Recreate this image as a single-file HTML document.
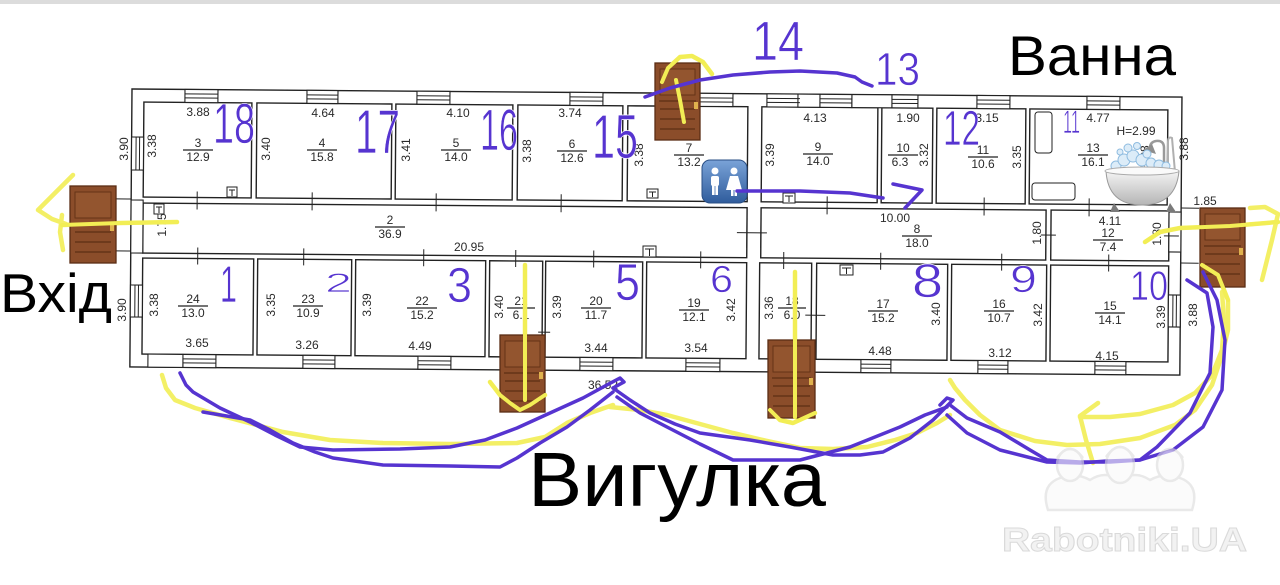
<!DOCTYPE html>
<html><head><meta charset="utf-8"><style>
html,body{margin:0;padding:0;background:#fff;}
svg{display:block;}
.d{font-family:"Liberation Sans",sans-serif;font-size:12px;fill:#2a2a2a;}
.h{font-family:"Liberation Sans",sans-serif;fill:#5634d0;stroke:#fff;stroke-width:0.7;}
.big{font-family:"Liberation Sans","DejaVu Sans",sans-serif;fill:#000;}
</style></head><body>
<svg width="1280" height="585" viewBox="0 0 1280 585" xmlns="http://www.w3.org/2000/svg">
<rect x="0" y="0" width="1280" height="585" fill="#fff"/>
<rect x="0" y="0" width="1280" height="4" fill="#dcdcdc"/>

<g transform="rotate(0.44 132 89)" fill="#fff" stroke="#222" stroke-width="1.4">
  <rect x="132" y="89" width="1050" height="278"/>
  <rect x="144" y="102" width="108" height="95"/>
  <rect x="257" y="102" width="135" height="95"/>
  <rect x="396" y="102" width="117" height="95"/>
  <rect x="518" y="102" width="105" height="95"/>
  <rect x="628" y="102" width="120" height="95"/>
  <rect x="762" y="102" width="116" height="95"/>
  <rect x="882" y="102" width="51" height="95"/>
  <rect x="937" y="102" width="89" height="95"/>
  <rect x="1030" y="102" width="138" height="95"/>
  <rect x="144" y="203" width="604" height="50"/>
  <rect x="762" y="203" width="285" height="50"/>
  <rect x="1052" y="203" width="118" height="50"/>
  <rect x="144" y="258" width="111" height="96"/>
  <rect x="259" y="258" width="94" height="96"/>
  <rect x="357" y="258" width="130" height="96"/>
  <rect x="491" y="258" width="53" height="96"/>
  <rect x="547" y="258" width="97" height="96"/>
  <rect x="648" y="258" width="100" height="96"/>
  <rect x="761" y="258" width="52" height="96"/>
  <rect x="818" y="258" width="131" height="96"/>
  <rect x="953" y="258" width="95" height="96"/>
  <rect x="1052" y="258" width="118" height="96"/>
  <g stroke-width="1.1">
    <rect x="185" y="89" width="33" height="13"/><rect x="307" y="89" width="31" height="13"/>
    <rect x="417" y="89" width="33" height="13"/><rect x="570" y="89" width="33" height="13"/>
    <rect x="700" y="89" width="33" height="13"/><rect x="767" y="89" width="33" height="13"/>
    <rect x="820" y="89" width="32" height="13"/><rect x="892" y="89" width="26" height="13"/>
    <rect x="977" y="89" width="33" height="13"/><rect x="1087" y="89" width="33" height="13"/>
    <rect x="185" y="354" width="33" height="13"/><rect x="305" y="354" width="32" height="13"/>
    <rect x="420" y="354" width="33" height="13"/><rect x="582" y="354" width="33" height="13"/>
    <rect x="688" y="354" width="34" height="13"/><rect x="863" y="354" width="30" height="13"/>
    <rect x="980" y="354" width="30" height="13"/><rect x="1097" y="354" width="31" height="13"/>
    <rect x="132" y="137" width="12" height="33"/><rect x="132" y="285" width="12" height="32"/>
    <rect x="1170" y="287" width="12" height="32"/>
    <rect x="132" y="200" width="12" height="53"/>
    <rect x="1170" y="204" width="12" height="40"/>
    <rect x="798" y="89" width="22" height="13"/><rect x="852" y="89" width="40" height="13"/>
    <rect x="150" y="354" width="35" height="13"/>
  </g>
  <path fill="none" stroke-width="1" d="
  M185 93.5H218M185 97.5H218 M307 93.5H338M307 97.5H338 M417 93.5H450M417 97.5H450 M570 93.5H603M570 97.5H603
  M700 93.5H733M700 97.5H733 M767 93.5H800M767 97.5H800 M820 93.5H852M820 97.5H852 M892 93.5H918M892 97.5H918
  M977 93.5H1010M977 97.5H1010 M1087 93.5H1120M1087 97.5H1120
  M185 358.5H218M185 362.5H218 M305 358.5H337M305 362.5H337 M420 358.5H453M420 362.5H453 M582 358.5H615M582 362.5H615
  M688 358.5H722M688 362.5H722 M863 358.5H893M863 362.5H893 M980 358.5H1010M980 362.5H1010 M1097 358.5H1128M1097 362.5H1128
  M136.5 137V170M140 137V170 M136.5 285V317M140 285V317 M1174.5 287V319M1178 287V319
  M117 199H132 M117 251H132 M1182 200H1200 M1182 255H1200
  M198 191V209 M313 191V209 M437 191V209 M562 191V209 M828 191V209 M985 191V209 M1090 191V209
  M199 247V264 M305 247V264 M425 247V264 M517 247V264 M595 247V264 M702 247V264 M785 247V264 M882 247V264 M1003 247V264 M1110 247V264
  M738 228H768 M1042 228H1057 M1165 228H1180 M807 310H827 M540 329H552
  M748 213V243 M762 213V243"/>
</g>

<g fill="#fff" stroke="#222" stroke-width="1">
  <rect x="227" y="187" width="10" height="10"/><path d="M229 190H235M232 190V196"/>
  <rect x="154" y="204" width="10" height="10"/><path d="M156 207H162M159 207V213"/>
  <rect x="647" y="189" width="11" height="9"/><path d="M649 192H656M652.5 192V197"/>
  <rect x="643" y="246" width="13" height="11"/><path d="M645 249H654M649.5 249V256"/>
  <rect x="783" y="193" width="12" height="10"/><path d="M785 196H793M789 196V202"/>
  <rect x="840" y="265" width="13" height="10"/><path d="M842 268H851M846.5 268V274"/>
  <rect x="1035" y="112" width="17" height="41" rx="3"/>
  <rect x="1032" y="183" width="43" height="17" rx="3"/>
</g>

<g class="d" text-anchor="middle">
  <text x="198" y="116">3.88</text><text x="323" y="117">4.64</text><text x="458" y="117">4.10</text>
  <text x="570" y="117">3.74</text><text x="815" y="122">4.13</text><text x="908" y="122">1.90</text>
  <text x="987" y="122">3.15</text><text x="1098" y="122">4.77</text><text x="1136" y="135">H=2.99</text>
  <text x="469" y="251">20.95</text><text x="895" y="222">10.00</text><text x="1110" y="225">4.11</text>
  <text x="1205" y="205">1.85</text>
  <text x="197" y="347">3.65</text><text x="307" y="349">3.26</text><text x="420" y="350">4.49</text>
  <text x="596" y="352">3.44</text><text x="696" y="352">3.54</text><text x="880" y="355">4.48</text>
  <text x="1000" y="357">3.12</text><text x="1107" y="360">4.15</text><text x="603" y="389">36.52</text>
  <text x="198" y="147">3</text><text x="198" y="161">12.9</text>
  <text x="322" y="147">4</text><text x="322" y="161">15.8</text>
  <text x="456" y="147">5</text><text x="456" y="161">14.0</text>
  <text x="572" y="148">6</text><text x="572" y="162">12.6</text>
  <text x="689" y="152">7</text><text x="689" y="166">13.2</text>
  <text x="818" y="151">9</text><text x="818" y="165">14.0</text>
  <text x="903" y="152">10</text><text x="900" y="166">6.3</text>
  <text x="983" y="154">11</text><text x="983" y="168">10.6</text>
  <text x="1093" y="152">13</text><text x="1093" y="166">16.1</text>
  <text x="390" y="224">2</text><text x="390" y="238">36.9</text>
  <text x="917" y="233">8</text><text x="917" y="247">18.0</text>
  <text x="1108" y="237">12</text><text x="1108" y="251">7.4</text>
  <text x="193" y="303">24</text><text x="193" y="317">13.0</text>
  <text x="308" y="303">23</text><text x="308" y="317">10.9</text>
  <text x="422" y="305">22</text><text x="422" y="319">15.2</text>
  <text x="521" y="305">21</text><text x="521" y="319">6.1</text>
  <text x="596" y="305">20</text><text x="596" y="319">11.7</text>
  <text x="694" y="307">19</text><text x="694" y="321">12.1</text>
  <text x="792" y="305">18</text><text x="792" y="319">6.0</text>
  <text x="883" y="308">17</text><text x="883" y="322">15.2</text>
  <text x="999" y="308">16</text><text x="999" y="322">10.7</text>
  <text x="1110" y="310">15</text><text x="1110" y="324">14.1</text>
</g>
<path stroke="#222" stroke-width="1.2" d="M183 150H213 M307 150H337 M441 150H471 M557 151H587 M674 155H704 M803 154H833 M888 155H918 M968 157H998 M1078 155H1108
M375 227H405 M902 236H932 M1093 240H1123 M178 306H208 M293 306H323 M407 308H437 M507 308H535 M581 308H611 M679 310H709 M778 308H806 M868 311H898 M984 311H1014 M1095 313H1125"/>
<g class="d" text-anchor="middle">
  <text transform="translate(128,149) rotate(-90)">3.90</text>
  <text transform="translate(156,146) rotate(-90)">3.38</text>
  <text transform="translate(270,149) rotate(-90)">3.40</text>
  <text transform="translate(410,150) rotate(-90)">3.41</text>
  <text transform="translate(531,151) rotate(-90)">3.38</text>
  <text transform="translate(643,155) rotate(-90)">3.38</text>
  <text transform="translate(774,155) rotate(-90)">3.39</text>
  <text transform="translate(928,155) rotate(-90)">3.32</text>
  <text transform="translate(1021,157) rotate(-90)">3.35</text>
  <text transform="translate(1188,149) rotate(-90)">3.88</text>
  <text transform="translate(1149,157) rotate(-90)">3.88</text>
  <text transform="translate(166,225) rotate(-90)">1.75</text>
  <text transform="translate(1041,233) rotate(-90)">1.80</text>
  <text transform="translate(1161,234) rotate(-90)">1.80</text>
  <text transform="translate(126,310) rotate(-90)">3.90</text>
  <text transform="translate(158,305) rotate(-90)">3.38</text>
  <text transform="translate(275,305) rotate(-90)">3.35</text>
  <text transform="translate(371,305) rotate(-90)">3.39</text>
  <text transform="translate(503,307) rotate(-90)">3.40</text>
  <text transform="translate(561,307) rotate(-90)">3.39</text>
  <text transform="translate(735,310) rotate(-90)">3.42</text>
  <text transform="translate(773,308) rotate(-90)">3.36</text>
  <text transform="translate(940,314) rotate(-90)">3.40</text>
  <text transform="translate(1042,315) rotate(-90)">3.42</text>
  <text transform="translate(1165,317) rotate(-90)">3.39</text>
  <text transform="translate(1197,315) rotate(-90)">3.88</text>
</g>

<text class="big" x="1008" y="75" font-size="56" textLength="168" lengthAdjust="spacingAndGlyphs">Ванна</text>
<text class="big" x="0" y="312" font-size="55" textLength="112" lengthAdjust="spacingAndGlyphs">Вхід</text>
<text class="big" x="528" y="506" font-size="77" textLength="298" lengthAdjust="spacingAndGlyphs">Вигулка</text>

<g class="h">
  <text x="213" y="143" font-size="57" textLength="42" lengthAdjust="spacingAndGlyphs">18</text>
  <text x="355" y="153" font-size="62" textLength="45" lengthAdjust="spacingAndGlyphs">17</text>
  <text x="480" y="150" font-size="58" textLength="38" lengthAdjust="spacingAndGlyphs">16</text>
  <text x="592" y="158" font-size="62" textLength="46" lengthAdjust="spacingAndGlyphs">15</text>
  <text x="752" y="60" font-size="56" textLength="52" lengthAdjust="spacingAndGlyphs">14</text>
  <text x="875" y="85" font-size="46" textLength="45" lengthAdjust="spacingAndGlyphs">13</text>
  <text x="943" y="145" font-size="49" textLength="37" lengthAdjust="spacingAndGlyphs">12</text>
  <text x="1063" y="133" font-size="32" textLength="17" lengthAdjust="spacingAndGlyphs">11</text>
  <text x="220" y="302" font-size="52" textLength="17" lengthAdjust="spacingAndGlyphs">1</text>
  <text x="325" y="292" font-size="27" textLength="27" lengthAdjust="spacingAndGlyphs">2</text>
  <text x="447" y="302" font-size="49" textLength="25" lengthAdjust="spacingAndGlyphs">3</text>
  <text x="615" y="300" font-size="52" textLength="25" lengthAdjust="spacingAndGlyphs">5</text>
  <text x="710" y="292" font-size="38" textLength="23" lengthAdjust="spacingAndGlyphs">6</text>
  <text x="912" y="297" font-size="47" textLength="31" lengthAdjust="spacingAndGlyphs">8</text>
  <text x="1010" y="292" font-size="38" textLength="27" lengthAdjust="spacingAndGlyphs">9</text>
  <text x="1130" y="300" font-size="42" textLength="38" lengthAdjust="spacingAndGlyphs">10</text>
</g>

<defs>
  <linearGradient id="tg" x1="0" y1="0" x2="0" y2="1"><stop offset="0" stop-color="#7aa3d8"/><stop offset="1" stop-color="#2f5c9c"/></linearGradient>
  <linearGradient id="bg" x1="0" y1="0" x2="0" y2="1"><stop offset="0" stop-color="#f4f4f4"/><stop offset="1" stop-color="#b5b5b5"/></linearGradient>
</defs>
<rect x="702" y="160" width="45" height="43" rx="8" fill="url(#tg)" stroke="#2a4f85" stroke-width="1"/>
<g fill="#fff">
  <circle cx="715" cy="171" r="3.5"/><rect x="711" y="176" width="8" height="10" rx="2"/><rect x="712" y="185" width="2.6" height="10"/><rect x="715.4" y="185" width="2.6" height="10"/>
  <circle cx="734" cy="171" r="3.5"/><path d="M730 176H738L742 190H726Z"/><rect x="731" y="189" width="2.5" height="7"/><rect x="734.5" y="189" width="2.5" height="7"/>
</g>

<g>
  <path d="M1164 172V148Q1164 140 1156 141Q1150 142 1150 148" fill="none" stroke="#9a9a9a" stroke-width="2.5"/>
  <path d="M1168 172V142Q1168 136 1172 138L1175 172" fill="none" stroke="#b0b0b0" stroke-width="2"/>
  <path d="M1143 150L1152 144L1156 154Z" fill="#8e8e8e"/>
  <g fill="#dcecf8" stroke="#8fbce0" stroke-width="1">
    <circle cx="1116" cy="166" r="5"/><circle cx="1124" cy="160" r="6"/><circle cx="1133" cy="156" r="6"/>
    <circle cx="1142" cy="160" r="6"/><circle cx="1151" cy="163" r="5"/><circle cx="1159" cy="165" r="5"/>
    <circle cx="1128" cy="148" r="4"/><circle cx="1137" cy="146" r="3.5"/><circle cx="1147" cy="154" r="4"/>
    <circle cx="1120" cy="152" r="3"/><circle cx="1166" cy="166" r="4"/>
  </g>
  <path d="M1106 171Q1108 205 1142 205Q1176 205 1179 171Z" fill="url(#bg)" stroke="#999" stroke-width="1"/>
  <ellipse cx="1142" cy="171" rx="37" ry="4" fill="#fafafa" stroke="#aaa" stroke-width="1"/>
  <path d="M1114 203L1110 212H1120Z M1170 203L1166 212H1176Z" fill="#7a7a7a"/>
</g>

<g fill="none" stroke="#f2ee55" stroke-width="4.5" stroke-linecap="round" stroke-linejoin="round" opacity="0.9">
  <polyline points="162,375 166,388 175,400 195,408 230,418 283,432 330,440 383,443 450,444 517,443 545,437 567,423 590,413 613,405"/>
  <polyline points="610,407 640,410 667,415 700,424 733,433 767,441 800,448 833,449 867,447 895,440 917,433 937,423 950,415"/>
  <polyline points="1202,265 1218,275 1228,300 1228,330 1222,355 1212,385 1195,410 1175,425 1140,438 1100,444 1067,445 1035,441 1000,430 980,415 965,400 955,388 950,380"/>
  <polyline points="1222,292 1224,320 1222,350 1212,375 1195,393 1173,405 1140,414 1110,417 1080,417"/>
  <polyline points="1098,403 1080,416 1086,440 1093,463"/>
  <polyline points="177,222 120,223 62,225"/>
  <polyline points="73,175 55,193 38,210 52,219 66,224"/>
  <polyline points="62,215 60,232 63,250"/>
  <polyline points="684,122 680,100 676,80"/>
  <polyline points="662,82 668,68 680,57 692,56 703,62 712,74"/>
  <polyline points="525,265 525,400"/>
  <polyline points="490,382 500,395 510,403 520,410 530,405 545,395"/>
  <polyline points="795,272 795,417"/>
  <polyline points="770,410 780,420 793,423 815,413"/>
  <polyline points="1145,242 1160,232 1180,228 1230,226 1278,222"/>
  <polyline points="1250,208 1265,207 1278,214 1272,240 1262,280"/>
</g>

<g>
  <g transform="translate(70,186)">
    <rect width="46" height="77" fill="#8b4d2a" stroke="#5a2d14" stroke-width="1.3"/>
    <rect x="5" y="6" width="36" height="26" fill="#93552f" stroke="#653417"/>
    <path d="M4 38H42M5 46H41M5 56H41M5 66H41" stroke="#653417" stroke-width="1.4"/>
    <rect x="40" y="39" width="4" height="6" fill="#e0b24e"/>
  </g>
  <g transform="translate(655,63)">
    <rect width="45" height="77" fill="#8b4d2a" stroke="#5a2d14" stroke-width="1.3"/>
    <rect x="5" y="6" width="35" height="26" fill="#93552f" stroke="#653417"/>
    <path d="M4 38H41M5 46H40M5 56H40M5 66H40" stroke="#653417" stroke-width="1.4"/>
    <rect x="39" y="39" width="4" height="7" fill="#e0b24e"/>
  </g>
  <g transform="translate(500,335)">
    <rect width="45" height="77" fill="#8b4d2a" stroke="#5a2d14" stroke-width="1.3"/>
    <rect x="5" y="6" width="35" height="26" fill="#93552f" stroke="#653417"/>
    <path d="M4 38H41M5 46H40M5 56H40M5 66H40" stroke="#653417" stroke-width="1.4"/>
    <rect x="39" y="37" width="4" height="7" fill="#e0b24e"/>
  </g>
  <g transform="translate(768,340)">
    <rect width="47" height="78" fill="#8b4d2a" stroke="#5a2d14" stroke-width="1.3"/>
    <rect x="5" y="6" width="37" height="26" fill="#93552f" stroke="#653417"/>
    <path d="M4 38H43M5 46H42M5 56H42M5 66H42" stroke="#653417" stroke-width="1.4"/>
    <rect x="41" y="38" width="4" height="7" fill="#e0b24e"/>
  </g>
  <g transform="translate(1200,208)">
    <rect width="45" height="79" fill="#8b4d2a" stroke="#5a2d14" stroke-width="1.3"/>
    <rect x="5" y="6" width="35" height="26" fill="#93552f" stroke="#653417"/>
    <path d="M4 38H41M5 46H40M5 56H40M5 66H40" stroke="#653417" stroke-width="1.4"/>
    <rect x="39" y="40" width="4" height="7" fill="#e0b24e"/>
  </g>
</g>

<g fill="none" stroke="#f2ee55" stroke-width="4" stroke-linecap="round" stroke-linejoin="round">
  <polyline points="177,222 120,223 62,225"/>
  <polyline points="684,122 680,100 676,80"/>
  <polyline points="662,82 668,68 680,57 692,56 703,62 712,74"/>
  <polyline points="525,265 525,400"/>
  <polyline points="490,382 500,395 510,403 520,410 530,405 545,395"/>
  <polyline points="795,272 795,417"/>
  <polyline points="770,410 780,420 793,423 815,413"/>
  <polyline points="1145,242 1160,232 1180,228 1230,226 1278,222"/>
  <polyline points="1202,265 1218,275 1228,300"/>
</g>

<g fill="none" stroke="#5634d0" stroke-width="3.5" stroke-linecap="round" stroke-linejoin="round">
  <polyline points="645,97 670,88 700,80 733,75 770,72 800,71 837,73 855,77 862,82 872,86"/>
  <polyline points="737,191 800,191 850,193 883,198"/>
  <polyline points="893,184 922,190 905,208"/>
  <polyline points="180,373 186,385 193,392 220,408 250,422 275,435 300,447 333,450 400,449 450,447 485,440 517,428 550,413 583,398 605,386 620,378 624,382 613,388"/>
  <polyline points="203,412 250,420 270,430 293,443 315,452 333,458 383,465 450,466 500,467 517,458 540,443 567,427 590,410 613,392"/>
  <polyline points="613,388 630,400 650,413 675,424 700,433 750,440 790,447 833,455 860,455 883,452 910,438 933,420 953,400 947,398 940,405"/>
  <polyline points="617,397 640,413 667,427 700,444 733,460 800,460 850,447 900,427 925,415 947,407"/>
  <polyline points="947,415 967,433 1000,450 1047,462 1080,463 1107,461 1140,460 1157,447 1190,413 1210,373 1213,327 1207,293 1187,280"/>
  <polyline points="950,405 967,418 1000,432 1030,450 1047,460 1080,462 1110,462 1140,460 1173,450 1203,427 1222,390 1225,340 1217,300 1203,272"/>
</g>

<g opacity="0.6" fill="none" stroke="#dcdcdc" stroke-width="2.5">
  <path d="M1048 510Q1040 485 1060 478Q1075 472 1090 480Q1105 470 1120 480Q1135 470 1150 480Q1165 472 1180 478Q1200 485 1192 510Z" fill="#fafafa"/>
  <ellipse cx="1070" cy="465" rx="13" ry="16" fill="#fafafa"/>
  <ellipse cx="1120" cy="465" rx="14" ry="18" fill="#fafafa"/>
  <ellipse cx="1170" cy="465" rx="13" ry="16" fill="#fafafa"/>
  <path d="M1057 458Q1070 440 1083 458 M1106 457Q1120 437 1134 457 M1157 458Q1170 440 1183 458"/>
</g>
<text x="1002" y="551" font-family="Liberation Sans, sans-serif" font-weight="bold" font-size="33" textLength="245" lengthAdjust="spacingAndGlyphs" fill="#f2f2f2" stroke="#dadada" stroke-width="1">Rabotniki.UA</text>
</svg>
</body></html>
